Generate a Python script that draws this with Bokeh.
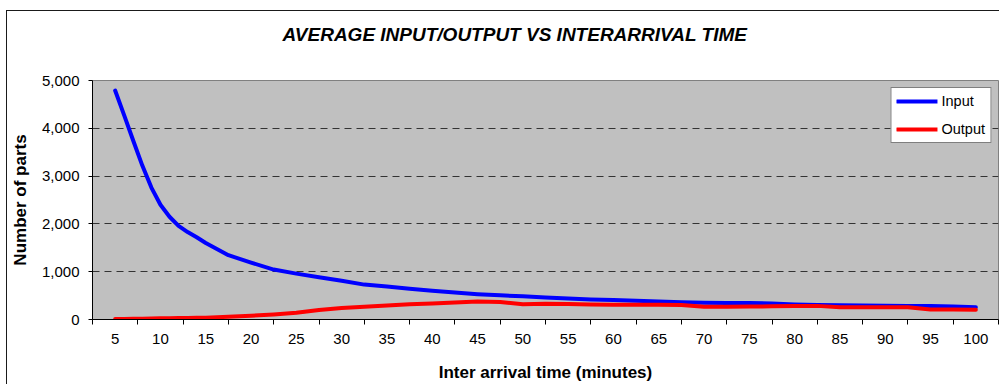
from bokeh.plotting import figure
from bokeh.models import (Range1d, FixedTicker, NumeralTickFormatter, Legend,
                          LegendItem, LinearAxis)
from bokeh.embed import file_html
from bokeh.resources import INLINE

# Interarrival time (minutes) and average part counts
minutes = [5, 6, 7, 8, 9, 10, 11, 12, 13, 14, 15, 17.5, 20, 22.5, 25, 27.5, 30,
           32.5, 35, 37.5, 40, 42.5, 45, 47.5, 50, 52.5, 55, 57.5, 60, 62.5, 65,
           67.5, 70, 72.5, 75, 77.5, 80, 82.5, 85, 87.5, 90, 92.5, 95, 97.5, 100]
input_parts = [4790, 4270, 3740, 3220, 2760, 2400, 2150, 1960, 1830, 1720, 1600,
               1345, 1190, 1045, 960, 885, 810, 730, 690, 645, 600, 565, 530, 505,
               485, 460, 440, 420, 410, 390, 375, 360, 350, 345, 345, 335, 315, 305,
               300, 295, 290, 285, 280, 270, 255]
output_parts = [10, 12, 14, 16, 20, 25, 27, 30, 32, 34, 35, 55, 80, 105, 140, 200,
                240, 265, 295, 320, 335, 355, 375, 365, 320, 330, 325, 315, 310,
                310, 310, 305, 265, 265, 270, 275, 280, 285, 255, 255, 255, 255,
                210, 210, 205]

x_tick_labels = [5, 10, 15, 20, 25, 30, 35, 40, 45, 50, 55, 60, 65, 70, 75, 80, 85,
                 90, 95, 100]
y_ticks = [0, 1000, 2000, 3000, 4000, 5000]
y_grid = [1000, 2000, 3000, 4000]

FONT = "Liberation Sans"
TITLE = "AVERAGE INPUT/OUTPUT VS INTERARRIVAL TIME"

p = figure(width=993, height=374, output_backend="svg", toolbar_location=None,
           x_range=Range1d(2.5, 102.5), y_range=Range1d(0, 5000),
           min_border_left=83, min_border_right=2, min_border_top=69,
           min_border_bottom=66,
           background_fill_color="#C0C0C0", border_fill_color="white",
           outline_line_color="#808080", outline_line_width=1,
           margin=(10, 0, 0, 6),
           styles={"border-top": "1px solid #1a1a1a",
                   "border-left": "1px solid #1a1a1a"})

# chart title, left-aligned with an offset so it sits over the whole chart area
p.title.text = TITLE
p.title.align = "left"
p.title.offset = 190
p.title.vertical_align = "middle"
p.title.standoff = 0
p.title.text_font = FONT
p.title.text_font_style = "bold italic"
p.title.text_font_size = "19px"
p.title.text_color = "black"

xa = p.below[0]
ya = p.left[0]

# empty band between the title and the plotting area: one invisible,
# unlabelled tick whose length sets the band height
gap_tick = x_tick_labels[9]
gap = LinearAxis(ticker=FixedTicker(ticks=[gap_tick]),
                 major_label_overrides={gap_tick: ""},
                 major_label_text_font_size="1px",
                 axis_line_color=None, major_tick_line_color=None,
                 minor_tick_line_color=None, major_tick_in=0,
                 major_tick_out=35, minor_tick_out=0, major_label_standoff=0)
p.add_layout(gap, "above")

r_in = p.line(minutes, input_parts, line_color="#0000FF", line_width=4,
              line_join="round", line_cap="round")
r_out = p.line(minutes, output_parts, line_color="#FF0000", line_width=4,
               line_join="round", line_cap="round")

# category-style x axis: labels centred between tick marks
half = 2.5
xa.ticker = FixedTicker(ticks=x_tick_labels,
                        minor_ticks=[t - half for t in x_tick_labels] + [x_tick_labels[-1] + half])
xa.major_tick_in = 0
xa.major_tick_out = 5
xa.minor_tick_in = 0
xa.minor_tick_out = 5
xa.minor_tick_line_color = "black"
xa.major_label_standoff = 9
xa.axis_label = "Inter arrival time (minutes)"
xa.axis_label_standoff = 16

ya.ticker = FixedTicker(ticks=y_ticks)
ya.formatter = NumeralTickFormatter(format="0,0")
ya.major_tick_in = 0
ya.major_tick_out = 4
ya.minor_tick_line_color = None
ya.major_label_standoff = 9
ya.axis_label = "Number of parts"
ya.axis_label_standoff = 9

for ax in (xa, ya):
    ax.axis_line_color = "black"
    ax.major_label_text_font = FONT
    ax.major_label_text_font_size = "15px"
    ax.major_label_text_color = "black"
    ax.axis_label_text_font = FONT
    ax.axis_label_text_font_size = "17px"
    ax.axis_label_text_font_style = "bold"
    ax.axis_label_text_color = "black"
ya.major_tick_line_color = "black"
xa.major_tick_line_color = None

p.xgrid.visible = False
p.ygrid.ticker = FixedTicker(ticks=y_grid)
p.ygrid.grid_line_color = "#333333"
p.ygrid.grid_line_dash = "7 5"
p.ygrid.grid_line_width = 1

legend = Legend(items=[LegendItem(label="Input", renderers=[r_in]),
                       LegendItem(label="Output", renderers=[r_out])],
                location="top_right", margin=7, padding=5, spacing=12,
                glyph_width=41, glyph_height=16, label_height=16,
                label_standoff=4, border_line_color="black",
                border_line_width=1, background_fill_color="white",
                background_fill_alpha=1, label_text_font=FONT,
                label_text_font_size="14.5px", label_text_color="black")
p.add_layout(legend)

open("out.html", "w").write(file_html(p, INLINE))
